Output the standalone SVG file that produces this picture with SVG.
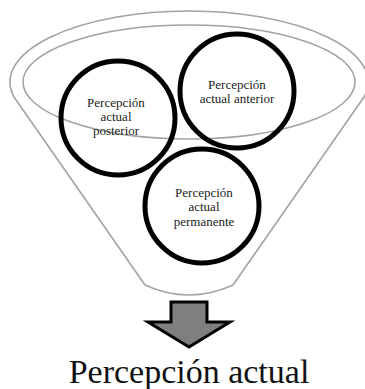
<svg xmlns="http://www.w3.org/2000/svg" width="365" height="389" viewBox="0 0 365 389">
<style>
.funnel{fill:none;stroke:#a3a3a3;stroke-width:1.6}
.node{fill:none;stroke:#000;stroke-width:5}
.lbl{font-family:"Liberation Serif","Times New Roman",serif;font-size:13px;fill:#222;text-anchor:middle}
.big{font-family:"Liberation Serif","Times New Roman",serif;font-size:34px;fill:#111;text-anchor:middle}
</style>
<rect width="365" height="389" fill="#fff"/>
<g id="funnel">
<path class="funnel" d="M145,285 L14,97 A179,71 0 1 1 364,97 L233,285 Q189,305 145,285 Z"/>
<ellipse class="funnel" cx="189" cy="82" rx="166" ry="57"/>
</g>
<g id="node-posterior">
<circle class="node" cx="118" cy="118" r="57"/>
<text class="lbl" x="116" y="107">Percepción</text>
<text class="lbl" x="116" y="121">actual</text>
<text class="lbl" x="116" y="135">posterior</text>
</g>
<g id="node-anterior">
<circle class="node" cx="237" cy="91" r="57"/>
<text class="lbl" x="237" y="89">Percepción</text>
<text class="lbl" x="237" y="103">actual anterior</text>
</g>
<g id="node-permanente">
<circle class="node" cx="202" cy="206" r="57"/>
<text class="lbl" x="204" y="197">Percepción</text>
<text class="lbl" x="204" y="211">actual</text>
<text class="lbl" x="204" y="226">permanente</text>
</g>
<g id="connectors">
<path d="M171,302 L207,302 L207,322 L230,322 L189,347 L148,322 L171,322 Z" fill="#7f7f7f" stroke="#000" stroke-width="3" stroke-linejoin="miter"/>
</g>
<g id="node-result">
<text class="big" x="189" y="383">Percepción actual</text>
</g>
</svg>
